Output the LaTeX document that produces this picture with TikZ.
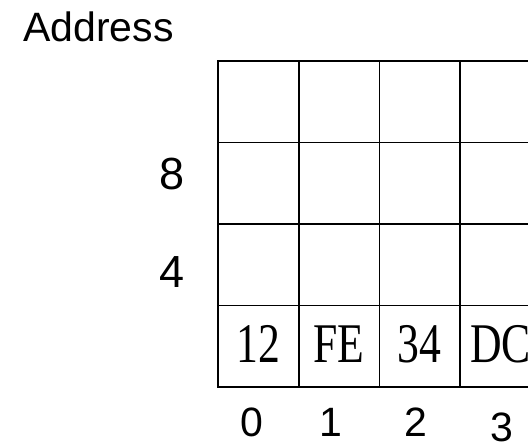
\documentclass[tikz,border=0pt]{standalone}
\usepackage{fontspec}
\setmainfont{Liberation Sans}
\newfontfamily\cellfont[FakeStretch=0.78]{Liberation Serif}
\usepackage{tikz}
\usetikzlibrary{positioning, calc}

\begin{document}
\begin{tikzpicture}[x=1pt, y=-1pt,
    memcell/.style={rectangle, draw=black, line width=1.6pt, minimum width=80.7pt, minimum height=81.5pt, inner sep=0pt},
    byte/.style={anchor=base, inner sep=0pt, font=\cellfont\fontsize{56}{56}\selectfont},
    rowlabel/.style={anchor=base east, inner sep=0pt, font=\fontsize{45}{45}\selectfont},
    collabel/.style={anchor=base, inner sep=0pt, font=\fontsize{41}{41}\selectfont},
    title/.style={anchor=base west, inner sep=0pt, font=\fontsize{41}{41}\selectfont}
]
\useasboundingbox (0,0) rectangle (528,446);
\clip (0,0) rectangle (528,446);

% Memory grid, bottom row holds the bytes
\foreach \r in {0,1,2,3}
  \foreach \c in {0,1,2,3,4}
    \node[memcell] (cell-\r-\c) at ({258.35+80.7*\c},{101.75+81.5*\r}) {};
\foreach \c/\b in {0/12, 1/FE, 2/34, 3/DC}
  \node[byte] (byte-\c) at ($(cell-3-\c.center)+(0,16)$) {\b};

% Labels
\node[title] (addr) at (23,42) {Address};
\node[rowlabel] (row8) at (185,190) {8};
\node[rowlabel] (row4) at (185,288) {4};
\node[collabel] (col0) at (252,437) {0};
\node[collabel] (col1) at (331,437) {1};
\node[collabel] (col2) at (416,437) {2};
\node[collabel] (col3) at (502,442) {3};
\end{tikzpicture}
\end{document}
